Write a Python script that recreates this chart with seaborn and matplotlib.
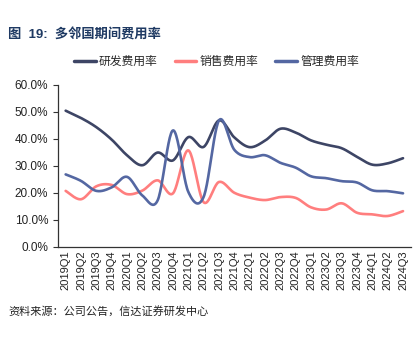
import numpy as np
import pandas as pd
import matplotlib
matplotlib.use("Agg")
import matplotlib.pyplot as plt
import seaborn as sns
from matplotlib.ticker import FixedLocator, PercentFormatter

quarters = ["2019Q1", "2019Q2", "2019Q3", "2019Q4", "2020Q1", "2020Q2", "2020Q3", "2020Q4",
            "2021Q1", "2021Q2", "2021Q3", "2021Q4", "2022Q1", "2022Q2", "2022Q3", "2022Q4",
            "2023Q1", "2023Q2", "2023Q3", "2023Q4", "2024Q1", "2024Q2", "2024Q3"]
rd_rate = [50.3, 47.6, 44.2, 39.6, 33.8, 30.1, 34.8, 31.9, 40.5, 36.9, 46.7, 40.4, 36.8,
           39.2, 43.6, 42.2, 39.3, 37.7, 36.4, 33.2, 30.3, 30.8, 32.7]
sales_rate = [20.6, 17.5, 22.3, 22.8, 19.4, 20.7, 24.5, 19.7, 35.6, 16.4, 23.9, 19.9, 18.1,
              17.2, 18.3, 18.0, 14.5, 13.7, 16.0, 12.5, 11.9, 11.3, 13.1]
admin_rate = [26.7, 24.3, 20.6, 21.9, 25.8, 18.9, 17.1, 43.0, 20.2, 18.4, 46.7, 35.8, 33.1,
              33.8, 31.0, 29.2, 26.0, 25.3, 24.2, 23.7, 20.8, 20.5, 19.7]
series_names = ["研发费用率", "销售费用率", "管理费用率"]
colors = ["#3D4565", "#FF7E7E", "#5467A2"]


def smooth(y, n=24):
    y = np.asarray(y, dtype=float)
    x = np.arange(len(y), dtype=float)
    px = np.concatenate([[x[0]], x, [x[-1]]])
    py = np.concatenate([[y[0]], y, [y[-1]]])
    xs, ys = [], []
    t = np.linspace(0, 1, n, endpoint=False)
    for i in range(1, len(px) - 2):
        p0, p1, p2, p3 = (np.array([px[j], py[j]]) for j in (i - 1, i, i + 1, i + 2))
        c1 = p1 + (p2 - p0) / 6.0
        c2 = p2 - (p3 - p1) / 6.0
        b = ((1 - t) ** 3)[:, None] * p1 + (3 * (1 - t) ** 2 * t)[:, None] * c1 \
            + (3 * (1 - t) * t ** 2)[:, None] * c2 + (t ** 3)[:, None] * p2
        xs.append(b[:, 0]); ys.append(b[:, 1])
    xs.append([x[-1]]); ys.append([y[-1]])
    return np.concatenate(xs), np.concatenate(ys)


frames = []
for name, vals in zip(series_names, [rd_rate, sales_rate, admin_rate]):
    sx, sy = smooth(vals)
    frames.append(pd.DataFrame({"x": sx, "y": sy, "series": name}))
df = pd.concat(frames, ignore_index=True)

sns.set_style("white")
plt.rcParams["font.family"] = ["Liberation Sans", "Noto Sans CJK SC", "DejaVu Sans"]

fig = plt.figure(figsize=(4.13, 3.38), dpi=100)
ax = fig.add_axes([0.1404, 0.2707, 0.854, 0.4793])

sns.lineplot(data=df, x="x", y="y", hue="series", hue_order=series_names,
             palette=colors, sort=False, estimator=None, linewidth=1.9, ax=ax, legend=True)

n = len(quarters)
ax.set_xlim(-0.5, n - 0.5)
ax.set_ylim(0, 60)
ax.set_xticks(range(n))
ax.set_xticklabels(quarters, rotation=90, fontsize=8, color="#222222")
ax.xaxis.set_minor_locator(FixedLocator(np.arange(-0.5, n, 1.0)))
ax.tick_params(axis="x", which="major", length=0, pad=3)
ax.tick_params(axis="x", which="minor", length=3.5, width=0.8, color="#333333", direction="out")
ax.set_yticks(np.arange(0, 61, 10))
ax.yaxis.set_major_formatter(PercentFormatter(decimals=1))
ax.tick_params(axis="y", length=3.5, width=0.8, color="#333333", labelsize=8.5,
               labelcolor="#222222", direction="out", left=True)
ax.set_xlabel("")
ax.set_ylabel("")
for s in ["top", "right"]:
    ax.spines[s].set_visible(False)
for s in ["left", "bottom"]:
    ax.spines[s].set_color("#333333")
    ax.spines[s].set_linewidth(0.9)
ax.grid(False)

handles, labels = ax.get_legend_handles_labels()
ax.legend_.remove()
leg = fig.legend(handles, labels, loc="center", bbox_to_anchor=(0.524, 0.8166), ncol=3,
                 frameon=False, fontsize=8.5, handlelength=1.85, handletextpad=0.25,
                 columnspacing=1.45, borderaxespad=0)
for h in leg.get_lines():
    h.set_linewidth(2.5)

fig.text(8 / 413, 1 - 35 / 338, "图  19:  多邻国期间费用率", fontsize=9.5, fontweight="bold",
         color="#1F3A63", va="center", ha="left")
fig.text(8 / 413, 1 - 311 / 338, "资料来源：公司公告，信达证券研发中心", fontsize=8,
         color="#222222", va="center", ha="left")

fig.savefig("out.png", dpi=100, facecolor="white")
